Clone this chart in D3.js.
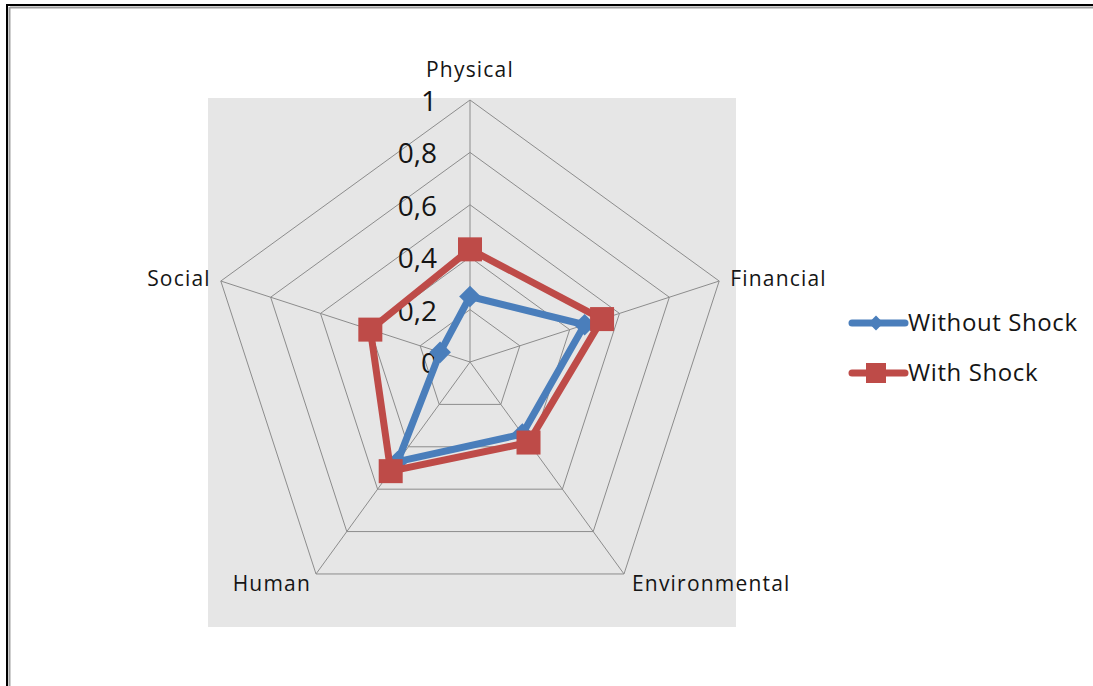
<!DOCTYPE html>
<html><head><meta charset="utf-8">
<script src="https://cdn.jsdelivr.net/npm/d3@7"></script>
<style>
html,body{margin:0;padding:0;background:#fff;}
svg{display:block;}
text{font-family:"Open Sans",sans-serif;fill:#151515;}
</style></head>
<body>
<svg id="c" width="1093" height="686"></svg>
<script>
const axes = ["Physical","Financial","Environmental","Human","Social"];
const withoutShock = [0.25, 0.46, 0.34, 0.47, 0.12];
const withShock = [0.43, 0.53, 0.38, 0.515, 0.40];
const tickValues = [0, 0.2, 0.4, 0.6, 0.8, 1];
const tickLabels = ["0","0,2","0,4","0,6","0,8","1"];
const seriesNames = ["Without Shock","With Shock"];
const seriesColors = ["#4A7EBB","#BE4B48"];

const svg = d3.select("#c");
const cx = 470, cy = 362, R = 262;

// frame
svg.append("line").attr("x1",7).attr("x2",1093).attr("y1",5).attr("y2",5).attr("stroke","#000").attr("stroke-width",2);
svg.append("line").attr("x1",7).attr("x2",7).attr("y1",4).attr("y2",686).attr("stroke","#000").attr("stroke-width",2);
svg.append("line").attr("x1",10).attr("x2",1093).attr("y1",7.5).attr("y2",7.5).attr("stroke","#a0a0a0").attr("stroke-width",2);
svg.append("line").attr("x1",9.5).attr("x2",9.5).attr("y1",7).attr("y2",686).attr("stroke","#a0a0a0").attr("stroke-width",2);

// plot area
svg.append("rect").attr("x",208).attr("y",98).attr("width",528).attr("height",529).attr("fill","#e6e6e6");

const r = d3.scaleLinear().domain([0,1]).range([0,R]);
const ang = d3.scalePoint().domain(axes).range([0, 2*Math.PI*(axes.length-1)/axes.length]);
const pt = (a,v) => { const t = ang(a) - Math.PI/2; return [cx + r(v)*Math.cos(t), cy + r(v)*Math.sin(t)]; };

const g = svg.append("g");
// rings
tickValues.filter(v=>v>0).forEach(v=>{
  g.append("path").attr("d", d3.line()(axes.map(a=>pt(a,v))) + "Z")
   .attr("fill","none").attr("stroke","#8c8c8c").attr("stroke-width",1);
});
// spokes
axes.forEach(a=>{
  const [x,y] = pt(a,1);
  g.append("line").attr("x1",cx).attr("y1",cy).attr("x2",x).attr("y2",y).attr("stroke","#8c8c8c").attr("stroke-width",1);
});

// tick labels
tickValues.forEach((v,i)=>{
  g.append("text").attr("x",cx-33).attr("y",cy - r(v)+1).attr("dy","0.36em")
   .attr("text-anchor","end").attr("font-size",28).text(tickLabels[i]);
});

// axis labels
const labelPos = {
  "Physical":{dx:0,dy:-30,anchor:"middle"},
  "Financial":{dx:11,dy:-2,anchor:"start"},
  "Environmental":{dx:8,dy:10,anchor:"start"},
  "Human":{dx:-5,dy:10,anchor:"end"},
  "Social":{dx:-10,dy:-2,anchor:"end"}
};
axes.forEach(a=>{
  const [x,y] = pt(a,1); const p = labelPos[a];
  g.append("text").attr("x",x+p.dx).attr("y",y+p.dy).attr("dy","0.35em")
   .attr("text-anchor",p.anchor).attr("font-size",21).attr("letter-spacing",1.2).text(a);
});

// series
const series = [withoutShock, withShock];
series.forEach((vals,si)=>{
  const pts = axes.map((a,i)=>pt(a,vals[i]));
  g.append("path").attr("d", d3.line()(pts)+"Z").attr("fill","none")
   .attr("stroke",seriesColors[si]).attr("stroke-width",7).attr("stroke-linejoin","round");
  pts.forEach(p=>{
    if(si===1){
      g.append("rect").attr("x",p[0]-12).attr("y",p[1]-12).attr("width",24).attr("height",24).attr("fill",seriesColors[si]);
    } else {
      g.append("path").attr("d",d3.symbol(d3.symbolDiamond2,300)()).attr("transform",`translate(${p[0]},${p[1]})`).attr("fill",seriesColors[si]);
    }
  });
});

// legend
seriesNames.forEach((n,i)=>{
  const y = 323 + i*50;
  const lg = svg.append("g");
  lg.append("line").attr("x1",852).attr("x2",905).attr("y1",y).attr("y2",y)
    .attr("stroke",seriesColors[i]).attr("stroke-width",7).attr("stroke-linecap","round");
  if(i===1) lg.append("rect").attr("x",866).attr("y",y-10).attr("width",20).attr("height",20).attr("fill",seriesColors[i]);
  else lg.append("path").attr("d",d3.symbol(d3.symbolDiamond2,140)()).attr("transform",`translate(876,${y})`).attr("fill",seriesColors[i]);
  lg.append("text").attr("x",908).attr("y",y).attr("dy","0.35em").attr("font-size",24).attr("letter-spacing",0.6).text(n);
});
</script>
</body></html>
